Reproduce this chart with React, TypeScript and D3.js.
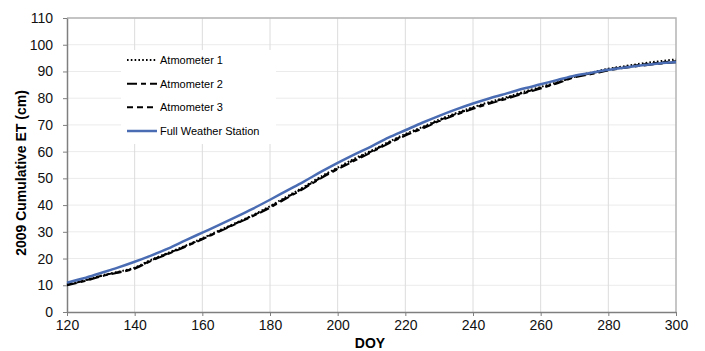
import React, { useEffect, useRef } from 'react';
import * as d3 from 'd3';

// DOY sampled every 5 days
const doy = [
  120, 125, 130, 135, 140, 145, 150, 155, 160, 165, 170, 175, 180, 185, 190, 195, 200, 205, 210,
  215, 220, 225, 230, 235, 240, 245, 250, 255, 260, 265, 270, 275, 280, 285, 290, 295, 300,
];

const atmometer1 = [
  10.3, 11.8, 13.6, 15.0, 16.6, 19.6, 22.2, 24.8, 27.6, 30.5, 33.4, 36.3, 39.6, 43.2, 46.8, 50.6,
  54.0, 57.4, 60.4, 63.6, 66.6, 69.2, 72.0, 74.4, 76.6, 78.6, 80.4, 82.4, 84.2, 86.0, 88.2, 89.6,
  91.0, 92.0, 93.0, 93.8, 94.5,
];

const atmometer2 = [
  10.0, 11.5, 13.3, 14.7, 16.2, 19.2, 21.8, 24.4, 27.2, 30.1, 33.0, 35.9, 39.0, 42.6, 46.2, 50.0,
  53.4, 56.6, 59.8, 63.0, 66.0, 68.6, 71.4, 73.8, 76.0, 78.0, 79.8, 81.8, 83.6, 85.6, 87.8, 89.0,
  90.4, 91.4, 92.2, 92.9, 93.4,
];

const atmometer3 = [
  10.2, 11.7, 13.5, 14.9, 16.4, 19.4, 22.0, 24.6, 27.4, 30.3, 33.2, 36.1, 39.3, 42.9, 46.5, 50.3,
  53.7, 57.0, 60.1, 63.3, 66.3, 68.9, 71.7, 74.1, 76.3, 78.3, 80.1, 82.1, 83.9, 85.8, 88.0, 89.3,
  90.7, 91.7, 92.6, 93.3, 93.8,
];

const fullWeatherStation = [
  11.0, 12.6, 14.6, 16.6, 18.8, 21.2, 23.8, 26.8, 29.7, 32.6, 35.6, 38.7, 42.0, 45.4, 48.8, 52.4,
  55.8, 59.0, 62.0, 65.2, 68.0, 70.8, 73.4, 75.8, 78.0, 80.0, 81.8, 83.6, 85.2, 86.8, 88.4, 89.5,
  90.6, 91.5, 92.3, 93.0, 93.5,
];

const xTicks = [120, 140, 160, 180, 200, 220, 240, 260, 280, 300];
const yTicks = [0, 10, 20, 30, 40, 50, 60, 70, 80, 90, 100, 110];

const seriesNames = ['Atmometer 1', 'Atmometer 2', 'Atmometer 3', 'Full Weather Station'];
const seriesValues = [atmometer1, atmometer2, atmometer3, fullWeatherStation];
const seriesStroke = ['#000', '#000', '#000', '#4a6cb3'];
const seriesDash = ['1.6 2.2', '10 4 5 4', '6 4', null];
const seriesWidth = [2, 2, 2, 2.5];

const App = () => {
  const chartRef = useRef<SVGSVGElement>(null);

  useEffect(() => {
    const svg = d3.select(chartRef.current);
    svg.selectAll('*').remove();

    const font = 'Liberation Sans, Arial, sans-serif';
    const left = 67;
    const right = 676;
    const top = 18;
    const bottom = 312;

    const x = d3.scaleLinear().domain([120, 300]).range([left, right]);
    const y = d3.scaleLinear().domain([0, 110]).range([bottom, top]);

    // gridlines
    svg
      .append('g')
      .selectAll('line')
      .data(yTicks.slice(1))
      .enter()
      .append('line')
      .attr('x1', left)
      .attr('x2', right)
      .attr('y1', (d) => y(d))
      .attr('y2', (d) => y(d))
      .attr('stroke', '#ebebeb');

    svg
      .append('g')
      .selectAll('line')
      .data(xTicks.slice(1, -1))
      .enter()
      .append('line')
      .attr('x1', (d) => x(d))
      .attr('x2', (d) => x(d))
      .attr('y1', top)
      .attr('y2', bottom)
      .attr('stroke', '#dcdcdc');

    // plot border (top/right)
    svg
      .append('path')
      .attr('d', `M${left},${top}H${right}V${bottom}`)
      .attr('fill', 'none')
      .attr('stroke', '#b4b4b4')
      .attr('stroke-width', 1.5);

    // axes
    const yAxis = svg
      .append('g')
      .attr('transform', `translate(${left},0)`)
      .call(d3.axisLeft(y).tickValues(yTicks).tickSize(4).tickPadding(10).tickSizeOuter(0));
    const xAxis = svg
      .append('g')
      .attr('transform', `translate(0,${bottom})`)
      .call(d3.axisBottom(x).tickValues(xTicks).tickSize(4).tickPadding(4).tickSizeOuter(0));

    [xAxis, yAxis].forEach((a) => {
      a.select('.domain').attr('stroke', '#7f7f7f').attr('stroke-width', 1.5);
      a.selectAll('.tick line').attr('stroke', '#7f7f7f');
      a.selectAll('.tick text')
        .attr('font-family', font)
        .attr('font-size', 14)
        .attr('fill', '#111');
    });

    // lines
    const line = d3
      .line<number>()
      .x((d, i) => x(doy[i]))
      .y((d) => y(d))
      .curve(d3.curveMonotoneX);

    seriesValues.forEach((vals, i) => {
      svg
        .append('path')
        .attr('d', line(vals))
        .attr('fill', 'none')
        .attr('stroke', seriesStroke[i])
        .attr('stroke-width', seriesWidth[i])
        .attr('stroke-dasharray', seriesDash[i]);
    });

    // legend
    const legend = svg.append('g');
    legend
      .append('rect')
      .attr('x', 121)
      .attr('y', 50)
      .attr('width', 155)
      .attr('height', 94)
      .attr('fill', '#fff');

    const legendY = d3.scalePoint().domain(seriesNames).range([60, 131]);
    seriesNames.forEach((name, i) => {
      const ly = legendY(name);
      legend
        .append('line')
        .attr('x1', 127)
        .attr('x2', 157)
        .attr('y1', ly)
        .attr('y2', ly)
        .attr('stroke', seriesStroke[i])
        .attr('stroke-width', seriesWidth[i])
        .attr('stroke-dasharray', seriesDash[i]);
      legend
        .append('text')
        .attr('x', 160)
        .attr('y', ly)
        .attr('dy', '0.35em')
        .attr('font-family', font)
        .attr('font-size', 11)
        .text(name);
    });

    // axis titles
    svg
      .append('text')
      .attr('transform', `translate(26,${(top + bottom) / 2 + 8}) rotate(-90)`)
      .attr('text-anchor', 'middle')
      .attr('font-family', font)
      .attr('font-size', 14)
      .attr('font-weight', 'bold')
      .text('2009 Cumulative ET (cm)');

    svg
      .append('text')
      .attr('x', 370)
      .attr('y', 348)
      .attr('text-anchor', 'middle')
      .attr('font-family', font)
      .attr('font-size', 14)
      .attr('font-weight', 'bold')
      .text('DOY');
  }, []);

  return (
    <svg
      ref={chartRef}
      width={705}
      height={351}
      style={{ position: 'absolute', left: 0, top: 0, background: '#fff' }}
    ></svg>
  );
};

export default App;
